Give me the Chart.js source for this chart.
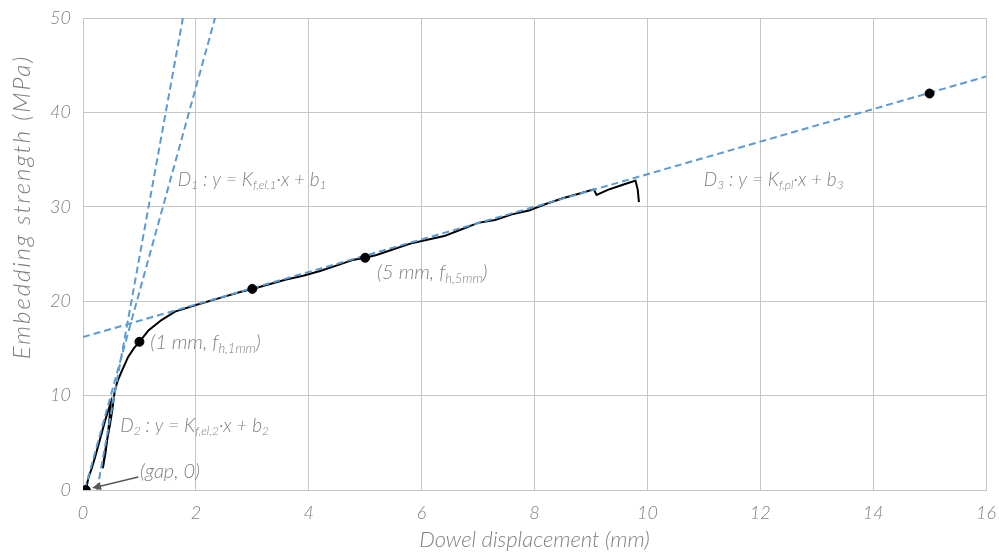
<!DOCTYPE html>
<html>
<head>
<meta charset="utf-8">
<script src="https://cdn.jsdelivr.net/npm/chart.js@4.4.1/dist/chart.umd.min.js"></script>
<style>
  html, body { margin: 0; padding: 0; background: #fff; }
  #wrap { width: 999px; height: 553px; }
</style>
</head>
<body>
<div id="wrap"><canvas id="embed"></canvas></div>
<script>
// measured curve (dowel displacement mm / embedding strength MPa)
var curveX = [0.05, 0.1, 0.15, 0.21, 0.27, 0.33, 0.39, 0.44, 0.49,
  0.47, 0.44, 0.40, 0.36, 0.35, 0.38, 0.43, 0.48, 0.52, 0.56, 0.61, 0.68, 0.8, 0.9, 1.0,
  1.16, 1.39, 1.63, 2.0, 2.4, 2.8, 3.0, 3.3, 3.6, 3.9, 4.2, 4.5, 4.8, 5.0, 5.2, 5.5,
  5.8, 6.1, 6.4, 6.7, 7.0, 7.3, 7.6, 7.9, 8.2, 8.5, 8.8, 9.05, 9.1, 9.3, 9.5, 9.7,
  9.79, 9.83, 9.85];
var curveY = [0, 1.4, 2.2, 3.4, 4.7, 6.0, 7.3, 8.3, 9.2,
  7.6, 5.8, 4.0, 2.6, 2.3, 3.6, 5.4, 7.0, 8.5, 10.4, 11.5, 12.5, 14.1, 15.0, 15.7,
  16.9, 18.0, 18.9, 19.6, 20.3, 21.0, 21.3, 21.8, 22.3, 22.7, 23.2, 23.8, 24.4, 24.6, 24.9, 25.5,
  26.1, 26.5, 26.9, 27.6, 28.3, 28.6, 29.2, 29.6, 30.3, 30.9, 31.4, 31.85, 31.25, 31.8, 32.2, 32.6,
  32.77, 31.8, 30.5];

// fitted lines
var d1X = [0.03, 2.34];
var d1Y = [0, 50];
var d2X = [0.25, 1.77];
var d2Y = [0, 50];
var d3X = [0, 16];
var d3Y = [16.2, 43.8];

// marked points: gap, 1 mm, 3 mm, 5 mm, 15 mm
var markX = [0.05, 1, 3, 5, 15];
var markY = [0, 15.7, 21.3, 24.6, 42];

var xTicks = [0, 16, 2];
var yTicks = [0, 50, 10];

var FONT = 'Lato, "Open Sans", sans-serif';
var TEXT = '#7f7f7f';
var BLUE = '#5b9bd5';

function pts(xs, ys) {
  return xs.map(function(x, i) { return {x: x, y: ys[i]}; });
}

// labels: [x, y, size, pieces]; piece = [text, isSub]
var labels = [
  [1.68, 32.9, 19, [['D', 0], ['1', 1], [' : y = K', 0], ['f,el,1', 1], ['\u00b7x + b', 0], ['1', 1]]],
  [0.66, 6.8, 19, [['D', 0], ['2', 1], [' : y = K', 0], ['f,el,2', 1], ['\u00b7x + b', 0], ['2', 1]]],
  [11.0, 32.9, 19, [['D', 0], ['3', 1], [' : y = K', 0], ['f,pl', 1], ['\u00b7x + b', 0], ['3', 1]]],
  [1.19, 15.6, 20, [['(1 mm, f', 0], ['h,1mm', 1], [')', 0]]],
  [5.21, 23.0, 20, [['(5 mm, f', 0], ['h,5mm', 1], [')', 0]]],
  [1.01, 2.0, 20, [['(gap, 0)', 0]]]
];

var notes = {
  id: 'notes',
  afterDatasetsDraw: function(chart) {
    var ctx = chart.ctx;
    var sx = chart.scales.x, sy = chart.scales.y;
    ctx.save();
    ctx.fillStyle = TEXT;
    ctx.textBaseline = 'middle';
    labels.forEach(function(l) {
      var px = sx.getPixelForValue(l[0]);
      var py = sy.getPixelForValue(l[1]);
      var sz = l[2];
      l[3].forEach(function(p) {
        if (p[1]) {
          ctx.font = 'italic 300 ' + Math.round(sz * 0.65) + 'px ' + FONT;
          ctx.fillText(p[0], px, py + sz * 0.3);
        } else {
          ctx.font = 'italic 300 ' + sz + 'px ' + FONT;
          ctx.fillText(p[0], px, py);
        }
        px += ctx.measureText(p[0]).width;
      });
    });

    // y axis title, placed as in the original
    ctx.save();
    ctx.translate(22, 207);
    ctx.rotate(-Math.PI / 2);
    ctx.textAlign = 'center';
    ctx.font = 'italic 300 24px ' + FONT;
    try { ctx.letterSpacing = '2px'; } catch (e) {}
    ctx.fillText('Embedding strength (MPa)', 0, 0);
    ctx.restore();

    // arrow to the gap point
    var x0 = sx.getPixelForValue(0.98), y0 = sy.getPixelForValue(1.38);
    var x1 = sx.getPixelForValue(0.16), y1 = sy.getPixelForValue(0.2);
    var a = Math.atan2(y1 - y0, x1 - x0);
    ctx.strokeStyle = '#595959';
    ctx.fillStyle = '#595959';
    ctx.lineWidth = 1.5;
    ctx.beginPath();
    ctx.moveTo(x0, y0);
    ctx.lineTo(x1 - 6 * Math.cos(a), y1 - 6 * Math.sin(a));
    ctx.stroke();
    ctx.beginPath();
    ctx.moveTo(x1, y1);
    ctx.lineTo(x1 - 9 * Math.cos(a) + 4 * Math.sin(a), y1 - 9 * Math.sin(a) - 4 * Math.cos(a));
    ctx.lineTo(x1 - 9 * Math.cos(a) - 4 * Math.sin(a), y1 - 9 * Math.sin(a) + 4 * Math.cos(a));
    ctx.closePath();
    ctx.fill();
    ctx.restore();
  }
};

var dashed = function(xs, ys) {
  return {
    data: pts(xs, ys),
    showLine: true,
    borderColor: BLUE,
    borderWidth: 2,
    borderDash: [7, 4],
    pointRadius: 0,
    order: 1
  };
};

var config = {
  type: 'scatter',
  data: {
    datasets: [
      {
        data: pts(markX, markY),
        backgroundColor: '#000',
        borderColor: '#000',
        pointRadius: 4.5,
        order: 0
      },
      dashed(d1X, d1Y),
      dashed(d2X, d2Y),
      dashed(d3X, d3Y),
      {
        data: pts(curveX, curveY),
        showLine: true,
        borderColor: '#000',
        borderWidth: 2,
        pointRadius: 0,
        tension: 0,
        order: 2
      }
    ]
  },
  options: {
    responsive: true,
    maintainAspectRatio: false,
    animation: false,
    layout: { padding: { top: 18, right: 13, left: 0, bottom: 0 } },
    plugins: { legend: { display: false }, tooltip: { enabled: false } },
    scales: {
      x: {
        min: xTicks[0], max: xTicks[1],
        ticks: { stepSize: xTicks[2], color: TEXT, padding: 12, maxRotation: 0,
          font: { family: FONT, size: 18, style: 'italic', weight: 300 } },
        grid: { color: '#c6c6c6', drawTicks: false },
        border: { color: '#c6c6c6' },
        title: { display: true, text: 'Dowel displacement (mm)', color: TEXT, padding: 0,
          font: { family: FONT, size: 22, style: 'italic', weight: 300 } },
        afterFit: function(s) { s.height = 63; s.paddingLeft = 0; s.paddingRight = 0; }
      },
      y: {
        min: yTicks[0], max: yTicks[1],
        ticks: { stepSize: yTicks[2], color: TEXT, padding: 12,
          font: { family: FONT, size: 18, style: 'italic', weight: 300 } },
        grid: { color: '#c6c6c6', drawTicks: false },
        border: { color: '#c6c6c6' },
        afterFit: function(s) { s.width = 83; s.paddingTop = 0; s.paddingBottom = 0; }
      }
    }
  },
  plugins: [notes]
};

window.onload = function() {
  var ctx = document.getElementById('embed').getContext('2d');
  window.embedChart = new Chart(ctx, config);
};
</script>
</body>
</html>
